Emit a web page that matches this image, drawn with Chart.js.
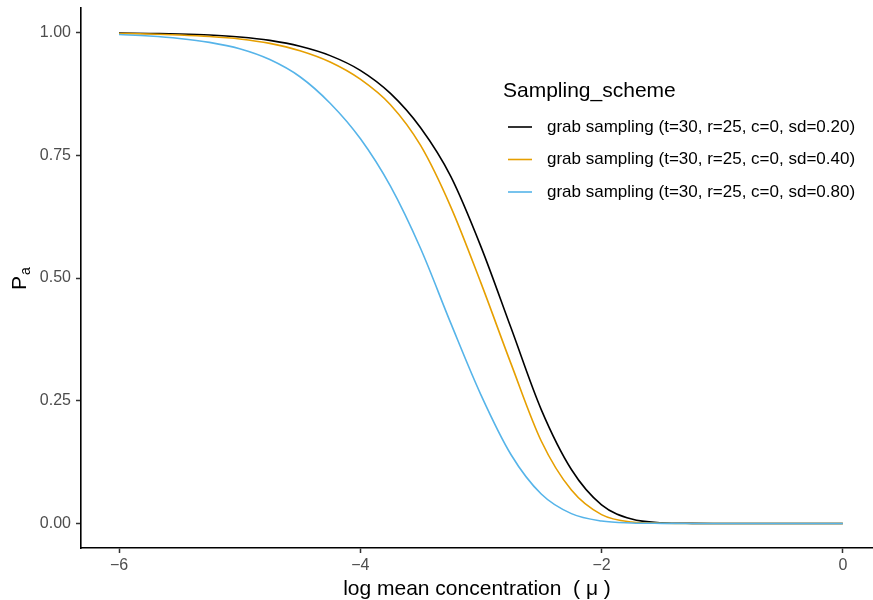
<!DOCTYPE html>
<html>
<head>
<meta charset="utf-8">
<script src="https://cdn.jsdelivr.net/npm/chart.js@4"></script>
<style>
  html, body { margin: 0; padding: 0; background: #fff; overflow: hidden; }
</style>
</head>
<body>
<canvas id="paChart" width="873" height="600"></canvas>
<script>
const logMu = [-6, -5.75, -5.5, -5.25, -5, -4.75, -4.5, -4.25, -4, -3.75, -3.5, -3.25, -3,
               -2.75, -2.5, -2.25, -2, -1.75, -1.5, -1.25, -1, -0.75, -0.5, -0.25, 0];

const pa_sd020 = [0.999, 0.998, 0.997, 0.995, 0.991, 0.984, 0.972, 0.953, 0.923, 0.876, 0.806, 0.707, 0.564,
                  0.398, 0.232, 0.110, 0.038, 0.009, 0.0015, 0.0002, 0, 0, 0, 0, 0];
const pa_sd040 = [0.998, 0.997, 0.995, 0.992, 0.987, 0.978, 0.963, 0.940, 0.905, 0.853, 0.770, 0.645, 0.490,
                  0.325, 0.168, 0.068, 0.018, 0.003, 0.0005, 0, 0, 0, 0, 0, 0];
const pa_sd080 = [0.996, 0.993, 0.988, 0.980, 0.967, 0.945, 0.910, 0.856, 0.784, 0.687, 0.560, 0.408, 0.262,
                  0.140, 0.060, 0.020, 0.005, 0.001, 0.0002, 0, 0, 0, 0, 0, 0];

const schemeLabels = [
    'grab sampling (t=30, r=25, c=0, sd=0.20)',
    'grab sampling (t=30, r=25, c=0, sd=0.40)',
    'grab sampling (t=30, r=25, c=0, sd=0.80)'
];
const schemeColors = ['#000000', '#E69F00', '#56B4E9'];

const xTicks = [-6, -4, -2, 0];
const yTicks = [0, 0.25, 0.5, 0.75, 1];

const FONT = "'Liberation Sans', Arial, Helvetica, sans-serif";

const toPoints = ys => logMu.map((x, i) => ({ x: x, y: ys[i] }));

// legend + y title drawn by hand, ggplot style
const extras = {
    id: 'extras',
    afterDraw(chart) {
        const ctx = chart.ctx;
        ctx.save();
        ctx.fillStyle = '#000';
        ctx.textAlign = 'left';
        ctx.textBaseline = 'alphabetic';
        ctx.font = '21px ' + FONT;
        ctx.fillText('Sampling_scheme', 503, 97);

        const rows = [127, 159.5, 192];
        chart.data.datasets.forEach((ds, i) => {
            ctx.strokeStyle = ds.borderColor;
            ctx.lineWidth = 1.6;
            ctx.beginPath();
            ctx.moveTo(508, rows[i]);
            ctx.lineTo(532, rows[i]);
            ctx.stroke();
            ctx.font = '17px ' + FONT;
            ctx.textBaseline = 'middle';
            ctx.fillStyle = '#000';
            ctx.fillText(ds.label, 547, rows[i]);
        });

        // P subscript a
        ctx.translate(26, 290);
        ctx.rotate(-Math.PI / 2);
        ctx.textBaseline = 'alphabetic';
        ctx.font = '21px ' + FONT;
        ctx.fillText('P', 0, 0);
        const pw = ctx.measureText('P').width;
        ctx.font = '14px ' + FONT;
        ctx.fillText('a', pw + 1, 4);
        ctx.restore();
    }
};

const ctx = document.getElementById('paChart').getContext('2d');
const paChart = new Chart(ctx, {
    type: 'line',
    data: {
        datasets: [pa_sd020, pa_sd040, pa_sd080].map((ys, i) => ({
            label: schemeLabels[i],
            data: toPoints(ys),
            borderColor: schemeColors[i],
            backgroundColor: schemeColors[i],
            borderWidth: 1.6,
            pointRadius: 0,
            fill: false,
            cubicInterpolationMode: 'monotone',
            order: 3 - i
        }))
    },
    options: {
        responsive: false,
        animation: false,
        layout: { padding: { top: 8, right: 0, left: 0, bottom: 0 } },
        plugins: {
            legend: { display: false },
            tooltip: { enabled: false }
        },
        scales: {
            x: {
                type: 'linear',
                min: -6.315,
                max: 0.25,
                afterBuildTicks: s => { s.ticks = xTicks.map(v => ({ value: v })); },
                afterFit: s => { s.height = 52; s.paddingLeft = 0; s.paddingRight = 0; },
                ticks: {
                    color: '#4D4D4D',
                    font: { family: FONT, size: 16 },
                    padding: 3,
                    callback: v => String(v).replace('-', '\u2212')
                },
                grid: {
                    drawOnChartArea: false,
                    drawTicks: true,
                    tickLength: 5,
                    tickColor: '#333333',
                    tickWidth: 1.5
                },
                border: { display: true, color: '#000', width: 1.6 },
                title: {
                    display: true,
                    text: 'log mean concentration  ( \u03BC )',
                    color: '#000',
                    font: { family: FONT, size: 21, lineHeight: 1 },
                    padding: { top: 0, bottom: 0 }
                }
            },
            y: {
                min: -0.05,
                max: 1.05,
                afterBuildTicks: s => { s.ticks = yTicks.map(v => ({ value: v })); },
                afterFit: s => { s.width = 81; s.paddingTop = 0; s.paddingBottom = 0; },
                ticks: {
                    color: '#4D4D4D',
                    font: { family: FONT, size: 16 },
                    padding: 5,
                    callback: v => v.toFixed(2)
                },
                grid: {
                    drawOnChartArea: false,
                    drawTicks: true,
                    tickLength: 5,
                    tickColor: '#333333',
                    tickWidth: 1.5
                },
                border: { display: true, color: '#000', width: 1.6 }
            }
        }
    },
    plugins: [extras]
});
</script>
</body>
</html>
